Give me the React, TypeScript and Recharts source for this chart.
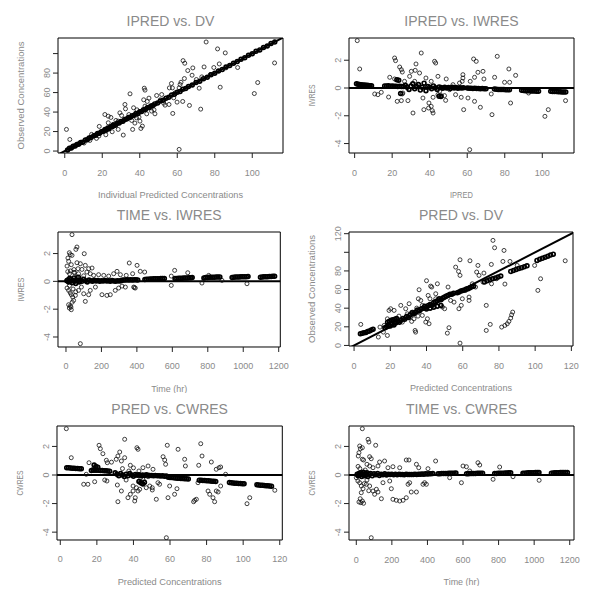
import React from 'react';
import { ScatterChart, Scatter, XAxis, YAxis, ReferenceLine, ReferenceArea } from 'recharts';

type Pt = [number, number];

// ---------- tick values ----------
const concTicks100 = [0, 20, 40, 60, 80, 100];
const concTicks120 = [0, 20, 40, 60, 80, 100, 120];
const timeTicks = [0, 200, 400, 600, 800, 1000, 1200];
const resTicks = [-4, -2, 0, 2];

// ---------- IPRED vs DV ----------
const ipredDvPoints: Pt[] = [
  [0.9, 22.2], [2.7, 11.9], [61.0, 1.7], [75.4, 111.9], [81.5, 104.8], [85.6, 100.7], [111.9, 90.4],
  [63.1, 92.8], [64.0, 90.1], [65.6, 82.6], [68.3, 85.3], [67.9, 77.8], [74.3, 86.3], [79.5, 85.7],
  [82.4, 89.4], [92.2, 85.7], [63.8, 74.4], [71.7, 64.5], [82.9, 65.5], [102.9, 70.3], [101.1, 59.0],
  [72.5, 43.0], [66.5, 46.8], [62.9, 50.9], [59.9, 50.2], [57.6, 38.6], [56.9, 69.3], [57.4, 64.8],
  [61.5, 68.3], [34.8, 58.7], [42.4, 64.5], [42.8, 62.5], [32.1, 47.8], [21.4, 37.5], [23.2, 35.8],
  [24.6, 34.5], [18.4, 25.3], [21.9, 16.7], [31.2, 16.4], [36.2, 22.2], [40.6, 23.2], [41.4, 25.6],
  [40.1, 30.7], [39.6, 34.8], [43.7, 38.2], [47.6, 42.3], [48.1, 38.2], [49.0, 57.0], [52.8, 49.1],
  [53.5, 47.1], [32.4, 43.3], [36.7, 44.4], [38.5, 42.3], [30.3, 36.5], [34.2, 37.5], [28.5, 22.2],
  [25.3, 19.8], [27.3, 31.4], [35.7, 31.4], [37.4, 28.7], [42.1, 52.6], [44.0, 50.9], [16.9, 13.0],
  [13.4, 10.9], [10.3, 8.2], [18.2, 15.4], [44.9, 54.3], [51.0, 52.6], [55.6, 47.8], [58.1, 54.6],
  [58.8, 59.7], [61.0, 64.8], [62.0, 70.6], [70.2, 73.4], [73.1, 76.1], [77.7, 78.5], [85.9, 85.3],
  [55.8, 64.8], [28.5, 30.7], [29.4, 39.2], [38.3, 34.1], [46.3, 41.0], [51.7, 58.0], [42.8, 46.1],
  [23.2, 29.0], [25.8, 27.3], [14.3, 17.1], [7.5, 6.8],
];
const ipredDvDense: Pt[] = [
  [1.5, 1.2], [2.5, 2.8], [3.5, 3.2], [4.5, 4.9], [5.5, 5.1], [6.5, 6.8], [7.5, 7.2], [8.5, 8.9],
  [9.5, 9.1], [11, 11.4], [12, 11.7], [13, 13.3], [14, 13.8], [15.5, 15.8], [16.5, 16.1], [17.5, 17.9],
  [18.5, 18.3], [19.5, 19.8], [20.5, 20.2], [21.5, 22], [22, 21.4], [23, 23.6], [23.5, 22.8], [24.5, 24.9],
  [25.5, 25.2], [26, 26.7], [27, 26.4], [28, 28.5], [29, 28.7], [30, 30.4], [31, 30.6], [32, 32.5],
  [33, 32.8], [34, 34.4], [35, 34.7], [36, 36.3], [37, 36.8], [38, 38.5], [39, 38.6], [40, 40.4],
  [41, 40.7], [42, 42.3], [43, 42.6], [44, 44.5], [45, 44.8], [46, 46.3], [47, 46.7], [48, 48.4],
  [49.5, 49.2], [51, 51.4], [52.5, 52.2], [54, 54.3], [55.5, 55.1], [57, 57.4], [58.5, 58.2], [60, 60.3],
  [61.5, 61.2], [63, 63.4], [64.5, 64.2], [66, 66.3], [68, 67.7], [70, 70.4], [72, 71.7], [74, 74.3],
  [76, 75.7], [78, 78.3], [80, 79.8], [82, 82.2], [84, 83.8], [86, 86.3], [88, 87.8], [90, 90.2],
  [92, 91.8], [94, 94.3], [96, 95.8], [98, 98.2], [100, 99.8], [102, 102.3], [104, 103.8], [106, 106.2],
  [108, 107.8], [110, 110.3], [112, 111.8],
];

// ---------- IPRED vs IWRES ----------
const ipredIwresPoints: Pt[] = [
  [1.4, 3.41], [2.7, 1.37], [21.3, 2.16], [21.8, 1.97], [35.5, 2.52], [42.6, 1.92], [43.2, 1.8],
  [32.7, 1.73], [24.0, 1.51], [24.9, 1.32], [25.4, 1.15], [30.2, 1.2], [32.3, 1.27], [34.6, 1.08],
  [63.4, 2.09], [64.8, 1.92], [76.0, 2.28], [82.2, 1.37], [85.8, 0.91], [65.7, 1.13], [68.4, 1.2],
  [68.9, 0.65], [74.6, 0.77], [79.9, 0.41], [82.6, 0.41], [57.7, 0.96], [57.7, 0.72], [57.3, 0.48],
  [61.6, 0.48], [63.9, 0.77], [48.8, 0.65], [44.4, 0.84], [18.7, 0.77], [21.3, 0.65], [26.6, 0.48],
  [29.3, 0.84], [38.0, 0.72], [40.8, 0.48], [32.0, 0.48], [52.4, 0.24], [55.9, 0.36], [10.7, -0.43],
  [12.4, -0.48], [14.2, -0.31], [18.1, -0.65], [22.7, -0.96], [24.9, -0.91], [28.4, -0.91], [31.1, -1.8],
  [36.9, -1.56], [39.4, -1.44], [39.6, -1.08], [40.8, -1.32], [41.4, -1.63], [41.8, -1.8], [36.4, -0.72],
  [41.8, -0.67], [44.4, -0.48], [46.2, -0.55], [47.9, -0.55], [48.5, -0.89], [53.8, -0.48], [56.8, -0.67],
  [60.4, -0.72], [58.1, -1.56], [63.9, -0.96], [67.0, -1.39], [72.8, -0.43], [73.2, -1.92], [83.1, -1.08],
  [92.7, -0.36], [101.4, -2.04], [103.2, -1.56], [112.4, -0.91], [61.3, -4.44], [25.7, -0.36], [25.4, -0.43],
  [45.3, -0.24], [50.6, -0.12], [16.9, 0.12],
];
const ipredIwresDense: Pt[] = [
  [1, 0.3], [1.8, 0.27], [2.6, 0.25], [3.4, 0.24], [4.2, 0.22], [5, 0.21], [5.8, 0.2], [6.6, 0.19],
  [7.4, 0.18], [8.2, 0.17], [9, 0.16],
  [16, 0.15], [17, 0.14], [18, 0.16], [19, 0.13], [20, 0.14], [21, 0.12], [22, 0.13], [23, 0.11],
  [24, 0.12], [25, 0.1], [26, 0.1], [22.5, 0.6], [23.5, 0.55], [24.5, -0.4], [45, -0.6], [46, -0.62],
  [27, 0.2], [28, 0.05], [29, -0.1], [30, 0.15], [31, 0.3], [32, -0.05], [33, 0.1], [34, 0.25],
  [35, -0.15], [36, 0.05], [37, 0.35], [38, -0.2], [39, 0.1], [40, 0.05], [41, -0.05], [42, 0.15],
  [43, 0.02], [44, -0.1], [45, 0.08], [46, 0.03], [47, -0.02], [48, 0.06], [49, 0], [50, 0.04],
  [51, -0.03], [52, 0.05], [53, 0], [54, 0.03], [55, -0.02], [56, 0.02], [57, 0], [58, 0.01],
  [60, 0], [61, -0.02], [62, -0.01], [63, -0.03], [64, -0.02], [65, -0.04], [66, -0.03], [67, -0.05],
  [68, -0.04], [69, -0.05], [70, -0.06],
  [74.5, -0.08], [75.5, -0.09], [76.5, -0.1], [77.5, -0.1], [78.5, -0.11], [79.5, -0.11], [80.5, -0.12],
  [81.5, -0.12], [82.5, -0.13],
  [89, -0.17], [90, -0.18], [91, -0.19], [92, -0.2], [93, -0.2], [94, -0.21], [95, -0.22], [96, -0.22],
  [97, -0.23], [98, -0.23],
  [104.5, -0.24], [105.5, -0.25], [106.5, -0.26], [107.5, -0.26], [108.5, -0.27], [109.5, -0.27],
  [110.5, -0.28], [111.5, -0.28], [112.5, -0.29],
];

// ---------- TIME vs IWRES ----------
const timeIwresPoints: Pt[] = [
  [34, 3.36], [62, 2.47], [56, 2.3], [103, 1.99], [11, 1.68], [15, 1.44], [19, 2.06], [24, 1.92],
  [34, 1.87], [6, 1.1], [30, 1.2], [62, 1.34], [81, 1.27], [68, 0.91], [90, 0.86], [109, 1.15],
  [128, 0.91], [147, 0.96], [49, 0.62], [71, 0.55], [118, 0.67], [137, 0.55], [156, 0.43], [184, 0.48],
  [213, 0.43], [241, 0.38], [269, 0.55], [288, 0.72], [307, 0.48], [340, 0.43], [357, 1.32], [376, 0.55],
  [401, 1.15], [419, 0.72], [444, 0.67], [613, 0.79], [687, 0.62], [594, 0.38], [805, 0.43], [594, -0.29],
  [767, -0.12], [1021, -0.17], [880, 0.07], [6, -0.48], [15, -0.65], [24, -0.82], [30, -0.96], [38, -1.13],
  [15, -1.68], [24, -1.77], [19, -1.92], [30, -2.04], [43, -1.37], [53, -1.01], [71, -0.65], [87, -0.41],
  [109, -1.44], [128, -0.96], [137, -0.65], [166, -0.41], [203, -0.96], [231, -1.01], [250, -0.96],
  [278, -0.65], [297, -0.48], [316, -0.34], [335, -0.41], [382, -0.41], [386, -0.45], [391, -0.48],
  [81, -4.48], [100, -0.89], [20, -0.3], [40, -0.55], [55, -0.75], [25, 0.75], [45, 0.85], [60, 0.3],
  [100, 0.4], [35, -1.5], [28, -1.85], [10, 0.7], [20, 0.55], [45, 0.65],
];
const timeIwresDense: Pt[] = [
  [5, 0.05], [10, 0.1], [15, -0.05], [20, 0.2], [25, 0], [30, 0.15], [35, -0.1], [40, 0.05], [45, 0.25],
  [50, 0], [55, -0.15], [60, 0.1], [65, 0.05], [70, 0.3], [75, -0.05], [80, 0.1], [90, 0], [100, 0.15],
  [110, 0.05], [120, -0.05], [130, 0.1], [140, 0.05], [150, 0], [160, 0.08], [170, 0.02], [180, 0.06],
  [190, 0], [200, 0.05], [210, 0.02], [220, 0.07], [230, 0.03], [240, 0.05], [250, 0.01], [260, 0.06],
  [270, 0.03], [280, 0], [290, 0.04], [300, 0.02], [310, 0.05],
  [315, 0.08], [325, 0.1], [335, 0.09], [345, 0.11], [355, 0.1], [365, 0.12], [375, 0.1], [385, 0.11],
  [395, 0.12], [405, 0.1],
  [445, 0.14], [455, 0.15], [465, 0.16], [475, 0.17], [485, 0.17], [495, 0.18], [505, 0.18], [515, 0.19],
  [525, 0.19], [535, 0.2], [545, 0.2], [555, 0.21],
  [615, 0.2], [625, 0.21], [635, 0.22], [645, 0.23], [655, 0.23], [665, 0.24], [675, 0.25], [685, 0.25],
  [695, 0.26], [705, 0.26], [712, 0.27],
  [778, 0.25], [788, 0.27], [798, 0.28], [808, 0.29], [818, 0.29], [828, 0.3], [838, 0.3], [848, 0.31],
  [858, 0.31], [868, 0.32],
  [937, 0.28], [947, 0.3], [957, 0.31], [967, 0.32], [977, 0.32], [987, 0.33], [997, 0.33], [1007, 0.34],
  [1017, 0.34], [1027, 0.35],
  [1097, 0.3], [1107, 0.32], [1117, 0.33], [1127, 0.34], [1137, 0.34], [1147, 0.35], [1157, 0.35],
  [1167, 0.36], [1177, 0.36],
];

// ---------- PRED vs DV ----------
const predDvPoints: Pt[] = [
  [3.7, 22.6], [76.7, 112.8], [77.6, 104.9], [82.8, 102.0], [58.5, 92.0], [64.0, 90.9], [75.8, 87.0],
  [82.2, 90.2], [86.1, 90.2], [116.6, 90.9], [99.7, 85.9], [68.4, 85.9], [103.0, 71.6], [101.5, 59.1],
  [83.3, 65.9], [73.0, 43.0], [73.0, 16.1], [75.2, 22.6], [81.5, 19.7], [83.3, 21.5], [84.6, 23.3],
  [85.5, 25.8], [86.5, 29.4], [87.0, 32.9], [87.6, 35.8], [56.1, 84.1], [57.7, 79.5], [58.5, 75.2],
  [40.0, 69.5], [42.3, 63.7], [42.9, 62.7], [35.9, 59.8], [46.0, 66.2], [51.9, 62.7], [67.7, 78.8],
  [69.0, 75.2], [71.7, 77.7], [75.9, 66.2], [78.7, 71.6], [90.1, 85.9], [57.9, 39.4], [58.5, 2.5],
  [52.4, 19.0], [51.5, 13.2], [33.7, 16.1], [34.0, 14.3], [31.8, 25.8], [18.4, 10.7], [13.4, 9.0],
  [16.2, 14.3], [25.8, 43.0], [19.3, 37.6], [20.2, 39.4], [22.1, 37.6], [35.5, 50.1], [36.8, 48.3],
  [40.9, 53.7], [41.9, 50.1], [37.7, 43.0], [39.6, 39.4], [37.7, 32.2], [40.5, 28.6], [39.6, 25.1],
  [41.4, 23.3], [35.3, 31.5], [33.1, 28.6], [30.9, 30.4], [32.2, 35.8], [29.4, 34.0], [47.8, 43.0],
  [48.8, 41.2], [50.0, 39.4], [53.3, 48.3], [55.2, 46.5], [59.8, 50.1], [63.5, 51.9], [59.2, 43.0],
  [63.5, 48.3], [45.1, 50.1], [45.1, 55.5], [23.9, 26.9], [26.7, 25.1], [24.8, 31.5], [14.3, 19.7],
  [16.6, 21.5], [18.4, 28.6], [28.5, 39.4], [30.4, 44.8], [34.6, 40.1], [61.6, 59.1], [65.3, 66.2],
  [67.1, 62.7], [71.2, 68.0],
];
const predDvDense: Pt[] = [
  [3.5, 12.5], [4.5, 13], [5.5, 13.5], [6.5, 14], [7.5, 15], [8.5, 15.5], [9.5, 16.5], [10.5, 17.5],
  [17, 19], [18, 20], [19, 21], [18.5, 25], [19.5, 26], [20.5, 27], [21.5, 27.5], [22.5, 28], [23.5, 29],
  [19, 22], [20, 21], [21, 23], [22, 22], [23, 24], [24, 26], [25, 25], [26, 27], [27, 29], [28, 28],
  [29, 31], [30, 30], [31, 33], [32, 35], [33, 34], [34, 36], [35, 38], [36, 37], [37, 39], [38, 40],
  [39, 42], [40, 41], [41, 43], [42, 44], [43, 43], [44, 46], [45, 47], [46, 48], [47, 50], [48, 49],
  [49, 51], [50, 52], [51, 53], [52, 54], [53, 55], [54, 55], [55, 56],
  [40, 39], [42, 40], [44, 41], [46, 42], [48, 43],
  [57, 56.5], [58, 57.5], [59, 58.5], [60, 59], [61, 59.5], [62, 60.5], [63, 61], [64, 62], [65, 63], [66, 63.5],
  [72, 68], [73.5, 69.5], [75, 70.5], [76.5, 71.5], [78, 72.5], [79.5, 73.5], [81, 74.5],
  [86.5, 79.5], [88, 80.5], [89.5, 81.5], [91, 82.5], [92.5, 83.5], [94, 84.5], [95.5, 85.5],
  [101, 91.3], [102.5, 92.5], [104, 93.5], [105.5, 94.7], [107, 95.8], [108.5, 97], [110, 98],
];

// ---------- PRED vs CWRES ----------
const predCwresPoints: Pt[] = [
  [3.3, 3.24], [6.0, 1.21], [21.2, 2.08], [21.9, 1.84], [23.3, 1.49], [25.2, 1.03], [25.7, 0.86],
  [35.2, 2.5], [32.5, 1.61], [31.5, 1.33], [41.9, 1.91], [42.5, 1.8], [30.6, 1.1], [35.2, 1.21],
  [33.4, 0.98], [58.5, 2.08], [64.4, 1.8], [76.8, 2.19], [77.5, 1.33], [56.2, 1.28], [57.1, 1.05],
  [57.6, 0.75], [68.0, 1.1], [68.4, 0.63], [75.7, 0.68], [82.6, 0.91], [85.3, 0.4], [86.8, 0.51],
  [87.7, 0.56], [90.4, 0.05], [15.7, 0.86], [17.9, 0.4], [14.2, 0.05], [12.8, -0.65], [15.1, -0.65],
  [18.8, -0.47], [24.3, -0.35], [25.5, -0.42], [31.2, -0.7], [33.4, -1.12], [31.5, -1.87], [37.0, -1.59],
  [38.3, -1.35], [39.8, -1.12], [40.7, -1.82], [41.0, -1.59], [39.8, -0.77], [41.6, -0.89], [42.5, -1.12],
  [43.4, -1.0], [45.2, -0.65], [46.1, -0.54], [47.0, -0.89], [48.9, -0.77], [50.3, -1.05], [50.3, -0.89],
  [52.5, -1.7], [53.4, -0.54], [54.3, -0.65], [58.9, -1.59], [59.8, -0.77], [58.0, -4.39], [62.5, -1.35],
  [63.8, -0.96], [72.9, -1.87], [73.5, -1.77], [74.4, -1.7], [75.3, -0.54], [80.8, -1.12], [81.7, -1.35],
  [83.5, -1.59], [84.4, -1.87], [85.3, -1.12], [86.3, -1.19], [87.7, -0.77], [102.1, -2.01], [103.6, -1.59],
  [117.3, -1.07], [43.0, 0.28], [45.2, 0.51], [48.0, 0.63], [50.7, 0.4], [45.2, -0.3], [48.0, -0.12],
  [37.5, 0.28], [38.3, 0.68], [28, 0.9], [34, 0.45], [36, -0.35], [40, 0.5], [44, -0.2],
];
const predCwresDense: Pt[] = [
  [3.5, 0.5], [4.5, 0.5], [5.5, 0.49], [6.5, 0.48], [7.5, 0.47], [8.5, 0.46], [9.5, 0.45], [10.5, 0.44],
  [11.5, 0.43],
  [17, 0.32], [18, 0.33], [19, 0.34], [20, 0.34], [21, 0.33], [22, 0.32], [23, 0.31], [24, 0.3], [25, 0.29],
  [26, 0.28], [27, 0.27], [18.5, 0.7], [19.5, 0.6], [20.5, 0.55],
  [30, 0.15], [31, 0.05], [32, -0.05], [33, 0.1], [34, 0], [35, -0.1], [36, 0.05], [37, -0.05], [38, 0.1],
  [39, 0], [40, -0.08], [41, 0.04], [42, -0.02], [43, 0.02], [44, -0.04], [45, 0], [46, -0.03], [47, 0.01],
  [48, -0.02], [49, -0.04], [50, -0.03], [51, -0.05], [52, -0.04], [53, -0.06], [54, -0.05], [55, -0.07],
  [56, -0.06], [57, -0.08], [58, -0.07], [43, -0.45], [44, -0.55], [45, -0.62], [46, -0.5],
  [59, -0.15], [60, -0.17], [61, -0.18], [62, -0.2], [63, -0.21], [64, -0.22], [65, -0.23], [66, -0.24],
  [67, -0.25], [68, -0.26], [69, -0.27], [70, -0.28],
  [76, -0.36], [77, -0.37], [78, -0.38], [79, -0.39], [80, -0.4], [81, -0.41], [82, -0.42], [83, -0.43],
  [84, -0.44], [85, -0.45],
  [92.5, -0.53], [93.5, -0.55], [94.5, -0.56], [95.5, -0.57], [96.5, -0.58], [97.5, -0.59], [98.5, -0.6],
  [99.5, -0.61], [100.5, -0.62],
  [107.5, -0.68], [108.5, -0.7], [109.5, -0.71], [110.5, -0.72], [111.5, -0.73], [112.5, -0.75],
  [113.5, -0.76], [114.5, -0.77], [115.5, -0.78],
];

// ---------- TIME vs CWRES ----------
const timeCwresPoints: Pt[] = [
  [34, 3.24], [66, 2.5], [71, 2.31], [109, 2.08], [19, 2.03], [23, 1.84], [34, 1.91], [15, 1.56],
  [11, 1.33], [75, 1.28], [84, 1.14], [34, 1.1], [41, 1.05], [131, 0.91], [159, 0.98], [60, 0.75],
  [75, 0.63], [94, 0.51], [122, 0.63], [178, 0.51], [206, 0.58], [244, 0.51], [281, 1.05], [296, 1.05],
  [338, 0.75], [351, 0.51], [403, 0.44], [446, 0.98], [600, 0.63], [619, 0.58], [638, 0.28], [684, 0.86],
  [694, 0.7], [806, 0.56], [0, -0.19], [9, -0.42], [19, -0.54], [28, -0.77], [38, -0.96], [28, -1.24],
  [22, -1.66], [34, -1.82], [41, -1.98], [15, -1.89], [26, -1.94], [56, -0.65], [75, -0.77], [94, -1.12],
  [103, -1.35], [122, -1.19], [113, -1.0], [141, -1.66], [150, -0.54], [188, -0.42], [197, -0.96],
  [206, -1.7], [225, -1.77], [244, -1.82], [263, -1.77], [281, -1.59], [309, -1.19], [338, -1.19],
  [291, -0.65], [300, -0.54], [375, -0.65], [384, -0.54], [394, -0.65], [525, -0.19], [591, -0.54],
  [769, -0.3], [1028, -0.37], [881, -0.12], [84, -4.39], [10, 0.6], [20, 0.45], [50, 0.35], [60, -0.35],
  [70, -1.1], [45, -0.6],
];
const timeCwresDense: Pt[] = [
  [5, 0.05], [10, -0.05], [15, 0.1], [20, 0], [25, 0.15], [30, -0.1], [35, 0.05], [40, 0.2], [45, -0.05],
  [50, 0.1], [55, 0], [60, 0.15], [65, -0.1], [70, 0.05], [80, 0.1], [90, -0.05], [100, 0.08], [110, 0.02],
  [120, 0.1], [130, -0.03], [140, 0.06], [150, 0.02], [160, 0.08], [170, 0], [180, 0.05], [190, 0.03],
  [200, 0.06], [210, 0.01], [220, 0.05], [230, 0.02], [240, 0.06], [250, 0.03], [260, 0.04], [270, 0.02],
  [280, 0.05], [290, 0.03], [300, 0.04], [310, 0.03],
  [320, 0.03], [330, 0.05], [340, 0.04], [350, 0.06], [360, 0.05], [370, 0.07], [380, 0.06], [390, 0.08],
  [400, 0.07], [410, 0.09], [420, 0.08], [430, 0.1],
  [460, 0.08], [470, 0.09], [480, 0.1], [490, 0.1], [500, 0.11], [510, 0.11], [520, 0.12], [530, 0.12],
  [540, 0.13], [550, 0.13], [560, 0.14],
  [620, 0.08], [630, 0.09], [640, 0.1], [650, 0.1], [660, 0.11], [670, 0.11], [680, 0.12], [690, 0.12],
  [700, 0.13], [710, 0.13],
  [778, 0.1], [788, 0.11], [798, 0.12], [808, 0.12], [818, 0.13], [828, 0.13], [838, 0.14], [848, 0.14],
  [858, 0.15], [868, 0.15],
  [937, 0.12], [947, 0.13], [957, 0.14], [967, 0.15], [977, 0.15], [987, 0.16], [997, 0.16], [1007, 0.17],
  [1017, 0.17], [1027, 0.18],
  [1097, 0.13], [1107, 0.14], [1117, 0.15], [1127, 0.16], [1137, 0.16], [1147, 0.17], [1157, 0.17],
  [1167, 0.18], [1177, 0.18], [1187, 0.18],
];

// ---------- layout / style ----------
const FONT = '"Liberation Sans", Arial, Helvetica, sans-serif';
const TXT = '#8a8a8a';
const PADL = 50;
const PADT = 40;
const PADR = 12;
const PADB = 46;

interface PanelCfg {
  title: string;
  xLabel: string;
  yLabel: string;
  xLabelLen: number;
  yLabelLen: number;
  box: [number, number, number, number];
  xDomain: [number, number];
  yDomain: [number, number];
  xTicks: number[];
  yTicks: number[];
  skipY: number[];
  points: Pt[];
  dense: Pt[];
  ref: 'identity' | 'zero';
}

const panels: PanelCfg[] = [
  {
    title: 'IPRED vs. DV', xLabel: 'Individual Predicted Concentrations', yLabel: 'Observed Concentrations',
    xLabelLen: 145, yLabelLen: 108, box: [57.7, 38.3, 282.7, 153.3], xDomain: [-3.6, 116.4], yDomain: [-2, 116],
    xTicks: concTicks100, yTicks: concTicks100, skipY: [100], points: ipredDvPoints, dense: ipredDvDense, ref: 'identity',
  },
  {
    title: 'IPRED vs. IWRES', xLabel: 'IPRED', yLabel: 'IWRES',
    xLabelLen: 23, yLabelLen: 22, box: [348.7, 38.3, 573.7, 153.3], xDomain: [-3.0, 116.9], yDomain: [-4.68, 3.6],
    xTicks: concTicks100, yTicks: resTicks, skipY: [], points: ipredIwresPoints, dense: ipredIwresDense, ref: 'zero',
  },
  {
    title: 'TIME vs. IWRES', xLabel: 'Time (hr)', yLabel: 'IWRES',
    xLabelLen: 36, yLabelLen: 24, box: [57.7, 232.3, 280, 347.3], xDomain: [-45, 1209], yDomain: [-4.72, 3.55],
    xTicks: timeTicks, yTicks: resTicks, skipY: [], points: timeIwresPoints, dense: timeIwresDense, ref: 'zero',
  },
  {
    title: 'PRED vs. DV', xLabel: 'Predicted Concentrations', yLabel: 'Observed Concentrations',
    xLabelLen: 102, yLabelLen: 108, box: [349.3, 232.3, 573.3, 346.3], xDomain: [-2.8, 120.9], yDomain: [-0.6, 121.8],
    xTicks: concTicks120, yTicks: concTicks120, skipY: [100], points: predDvPoints, dense: predDvDense, ref: 'identity',
  },
  {
    title: 'PRED vs. CWRES', xLabel: 'Predicted Concentrations', yLabel: 'CWRES',
    xLabelLen: 104, yLabelLen: 25, box: [57, 426.3, 282.3, 540.3], xDomain: [-1.8, 121.4], yDomain: [-4.55, 3.43],
    xTicks: concTicks120, yTicks: resTicks, skipY: [], points: predCwresPoints, dense: predCwresDense, ref: 'zero',
  },
  {
    title: 'TIME vs. CWRES', xLabel: 'Time (hr)', yLabel: 'CWRES',
    xLabelLen: 36, yLabelLen: 25, box: [348.7, 426.3, 573.7, 540.3], xDomain: [-41, 1224], yDomain: [-4.55, 3.43],
    xTicks: timeTicks, yTicks: resTicks, skipY: [], points: timeCwresPoints, dense: timeCwresDense, ref: 'zero',
  },
];

const Ring = (p: any) => {
  if (p.cx == null || p.cy == null) return <g />;
  return <circle cx={p.cx} cy={p.cy} r={2} fill="none" stroke="#111" strokeWidth={0.8} />;
};

// overplotted runs: same open circle, heavier ink where many observations stack
const DenseRing = (p: any) => {
  if (p.cx == null || p.cy == null) return <g />;
  return <circle cx={p.cx} cy={p.cy} r={1.9} fill="none" stroke="#000" strokeWidth={1.7} />;
};

const XTick = (p: any) => (
  <text x={p.x} y={p.y + 15.5} textAnchor="middle" fontSize={9} fontFamily={FONT} fill={TXT}>
    {p.payload.value}
  </text>
);

const YTick = (p: any) => {
  if (p.skip && p.skip.includes(p.payload.value)) return <g />;
  return (
    <text x={p.x} y={p.y} transform={`rotate(-90 ${p.x} ${p.y})`} textAnchor="middle" fontSize={9}
      fontFamily={FONT} fill={TXT}>
      {p.payload.value}
    </text>
  );
};

function Panel({ cfg }: { cfg: PanelCfg }) {
  const [x0, y0, x1, y1] = cfg.box;
  const bw = x1 - x0;
  const bh = y1 - y0;
  const W = bw + PADL + PADR;
  const H = bh + PADT + PADB;
  const pts = cfg.points.map(([x, y]) => ({ x, y }));
  const dense = cfg.dense.map(([x, y]) => ({ x, y }));
  const cx = PADL + bw / 2;
  const cy = PADT + bh / 2;
  const yl = PADL - 33.7;
  const texts = () => (
    <g fontFamily={FONT} fill={TXT}>
      <text x={cx} y={PADT - 11.6} textAnchor="middle" fontSize={14}>{cfg.title}</text>
      <text x={cx} y={PADT + bh + 44.6} textAnchor="middle" fontSize={9.3} textLength={cfg.xLabelLen}
        lengthAdjust="spacingAndGlyphs">{cfg.xLabel}</text>
      <text x={yl} y={cy} transform={`rotate(-90 ${yl} ${cy})`} textAnchor="middle" fontSize={9.3}
        textLength={cfg.yLabelLen} lengthAdjust="spacingAndGlyphs">{cfg.yLabel}</text>
    </g>
  );
  return (
    <div style={{ position: 'absolute', left: x0 - PADL, top: y0 - PADT }}>
      <ScatterChart width={W} height={H} margin={{ top: PADT, right: PADR, bottom: 0, left: 0 }}>
        <XAxis type="number" dataKey="x" domain={cfg.xDomain} allowDataOverflow ticks={cfg.xTicks} interval={0}
          tickSize={5} tickMargin={2} axisLine={false} tickLine={{ stroke: '#222' }} tick={<XTick />}
          height={PADB} label={texts} />
        <YAxis type="number" dataKey="y" domain={cfg.yDomain} allowDataOverflow ticks={cfg.yTicks} interval={0}
          tickSize={5} tickMargin={3} axisLine={false} tickLine={{ stroke: '#222' }} tick={<YTick skip={cfg.skipY} />}
          width={PADL} />
        <Scatter data={pts} shape={Ring} isAnimationActive={false} />
        <Scatter data={dense} shape={DenseRing} isAnimationActive={false} />
        {cfg.ref === 'identity' ? (
          <ReferenceLine segment={[{ x: -20, y: -20 }, { x: 140, y: 140 }]} ifOverflow="hidden"
            stroke="#000" strokeWidth={2} />
        ) : (
          <ReferenceLine y={0} stroke="#000" strokeWidth={2} />
        )}
        <ReferenceArea x1={cfg.xDomain[0]} x2={cfg.xDomain[1]} y1={cfg.yDomain[0]} y2={cfg.yDomain[1]}
          fill="none" fillOpacity={0} stroke="#000" strokeWidth={1} ifOverflow="visible" />
      </ScatterChart>
    </div>
  );
}

export default function App() {
  return (
    <div style={{ position: 'absolute', left: 0, top: 0, width: 594, height: 601, background: '#fff' }}>
      {panels.map((p) => (
        <Panel key={p.title} cfg={p} />
      ))}
    </div>
  );
}
